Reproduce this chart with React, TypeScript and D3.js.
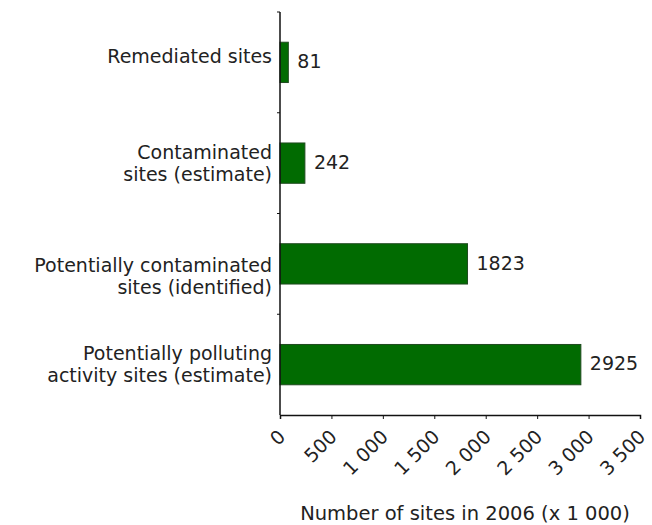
import React, { useEffect, useRef } from "react"
import * as d3 from "d3"

const categories = [
  ["Remediated sites"],
  ["Contaminated", "sites (estimate)"],
  ["Potentially contaminated", "sites (identified)"],
  ["Potentially polluting", "activity sites (estimate)"],
]
const values = [81, 242, 1823, 2925]
const xTicks = [0, 500, 1000, 1500, 2000, 2500, 3000, 3500]
const xTitle = "Number of sites in 2006 (x 1 000)"

// small vertical nudges of the category labels, as in the original layout
const labelShift = [-6, 0, 12, 0]

const App = () => {
  const ref = useRef<SVGSVGElement>(null)

  useEffect(() => {
    const width = 652
    const height = 525
    const font = "Verdana, 'DejaVu Sans', sans-serif"
    const fs = "19px"
    const top = 12
    const axisY = 415

    const svg = d3.select(ref.current)
    svg.selectAll("*").remove()
    svg.attr("width", width).attr("height", height)

    const x = d3.scaleLinear().domain([0, 3500]).range([280, 640])
    const y = d3
      .scaleBand<number>()
      .domain(d3.range(categories.length))
      .range([top, axisY])
      .paddingInner(0.6)
      .paddingOuter(0.3)

    const step = y.step()

    // bars
    svg
      .selectAll("rect.bar")
      .data(values)
      .join("rect")
      .attr("class", "bar")
      .attr("x", x(0))
      .attr("y", (_, i) => y(i)!)
      .attr("width", (d) => x(d) - x(0))
      .attr("height", y.bandwidth())
      .attr("fill", "#016b01")
      .attr("stroke", "#1f4a1f")
      .attr("stroke-width", 1)

    // value labels
    svg
      .selectAll("text.val")
      .data(values)
      .join("text")
      .attr("class", "val")
      .attr("x", (d) => x(d) + 9)
      .attr("y", (_, i) => y(i)! + y.bandwidth() / 2 - 1)
      .attr("dy", "0.35em")
      .style("font-family", font)
      .style("font-size", fs)
      .attr("fill", "#222")
      .text((d) => d)

    // category labels
    categories.forEach((lines, i) => {
      const cy = y(i)! + y.bandwidth() / 2 + labelShift[i]
      const lh = 22
      lines.forEach((line, j) => {
        svg
          .append("text")
          .attr("x", 272)
          .attr("y", cy + (j - (lines.length - 1) / 2) * lh)
          .attr("dy", "0.35em")
          .attr("text-anchor", "end")
          .style("font-family", font)
          .style("font-size", fs)
          .attr("fill", "#222")
          .text(line)
      })
    })

    // y axis line and ticks
    svg
      .append("line")
      .attr("x1", x(0))
      .attr("x2", x(0))
      .attr("y1", top)
      .attr("y2", axisY)
      .attr("stroke", "#111")
      .attr("stroke-width", 1.5)
    d3.range(categories.length).forEach((i) => {
      const ty = top + i * step
      svg
        .append("line")
        .attr("x1", x(0) - 3)
        .attr("x2", x(0))
        .attr("y1", ty)
        .attr("y2", ty)
        .attr("stroke", "#111")
    })

    // x axis
    const xAxis = svg
      .append("g")
      .attr("transform", `translate(0,${axisY})`)
      .call(
        d3
          .axisBottom(x)
          .tickValues(xTicks)
          .tickSizeOuter(0)
          .tickSize(4)
          .tickFormat((d) => d3.format(",")(d as number).replace(",", " "))
      )
    xAxis.select(".domain").attr("stroke", "#111").attr("stroke-width", 1.5)
    xAxis.selectAll(".tick line").attr("stroke", "#111")
    xAxis
      .selectAll(".tick text")
      .attr("text-anchor", "end")
      .attr("dy", 0)
      .attr("y", 0)
      .attr("transform", "translate(6,23) rotate(-45)")
      .style("font-family", font)
      .style("font-size", fs)
      .attr("fill", "#222")

    svg
      .append("text")
      .attr("x", 465)
      .attr("y", 520)
      .attr("text-anchor", "middle")
      .style("font-family", font)
      .style("font-size", "19.5px")
      .attr("fill", "#222")
      .text(xTitle)
  }, [])

  return <svg ref={ref} style={{ position: "absolute", left: 0, top: 0 }}></svg>
}

export default App
